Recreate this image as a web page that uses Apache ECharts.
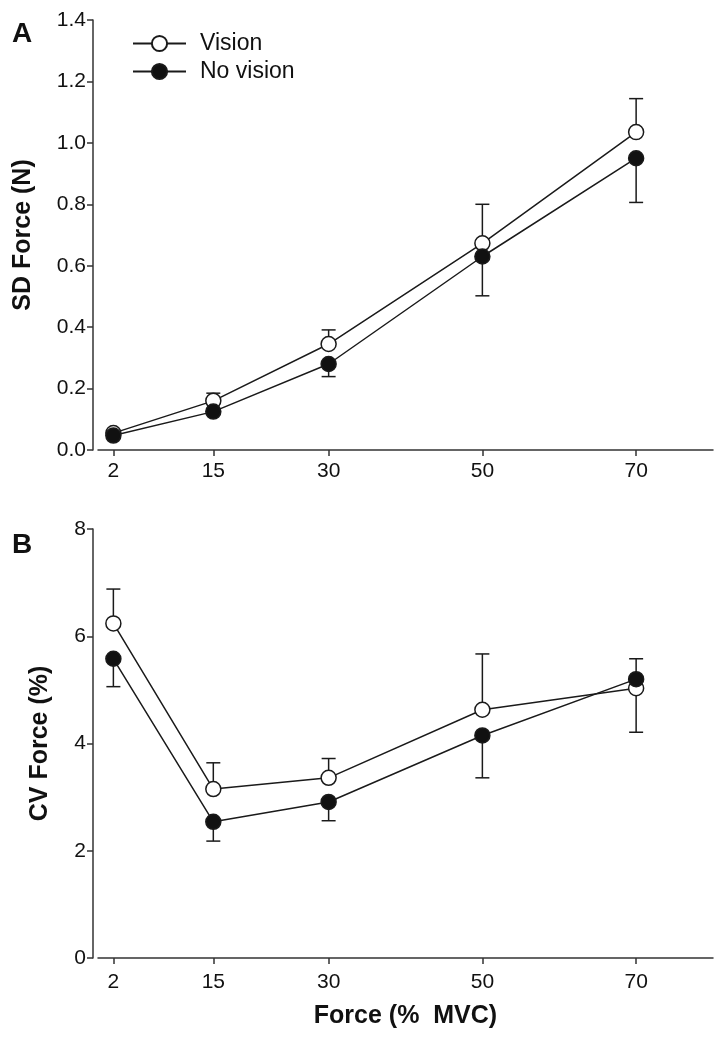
<!DOCTYPE html>
<html>
<head>
<meta charset="utf-8">
<script src="https://cdn.jsdelivr.net/npm/echarts@6/dist/echarts.min.js"></script>
<style>
html,body{margin:0;padding:0;background:#fff;}
#c{width:727px;height:1043px;}
</style>
</head>
<body>
<div id="c"></div>
<script>
// ---- data ----
const forces = [2, 15, 30, 50, 70];
const xTicks = [2, 15, 30, 50, 70];

// Panel A: SD Force (N)
const sdVision = [0.055, 0.16, 0.345, 0.673, 1.035];
const sdNoVision = [0.047, 0.125, 0.28, 0.63, 0.95];
const sdVisionErrEnd = [null, 0.185, 0.391, 0.80, 1.144];
const sdNoVisionErrEnd = [null, null, 0.239, 0.502, 0.806];

// Panel B: CV Force (%)
const cvVision = [6.24, 3.15, 3.36, 4.63, 5.03];
const cvNoVision = [5.58, 2.54, 2.91, 4.15, 5.20];
const cvVisionErrEnd = [6.88, 3.64, 3.72, 5.67, 4.21];
const cvNoVisionErrEnd = [5.06, 2.18, 2.56, 3.36, 5.58];

const sdTicks = [0, 0.2, 0.4, 0.6, 0.8, 1.0, 1.2, 1.4];
const cvTicks = [0, 2, 4, 6, 8];

// ---- build ----
const FONT = 'Liberation Sans, Arial, Helvetica, sans-serif';
const INK = '#1a1a1a';
const AX = '#333';

function pairs(xs, ys) { return xs.map((x, i) => [x, ys[i]]); }
function errData(xs, means, ends) {
  const out = [];
  xs.forEach((x, i) => { if (ends[i] != null) out.push([x, means[i], ends[i]]); });
  return out;
}
function errRender(params, api) {
  const x = api.value(0), m = api.value(1), e = api.value(2);
  const p0 = api.coord([x, m]);
  const p1 = api.coord([x, e]);
  const hw = 7;
  const st = { stroke: INK, lineWidth: 1.5 };
  return {
    type: 'group',
    children: [
      { type: 'line', shape: { x1: p0[0], y1: p0[1], x2: p1[0], y2: p1[1] }, style: st },
      { type: 'line', shape: { x1: p1[0] - hw, y1: p1[1], x2: p1[0] + hw, y2: p1[1] }, style: st }
    ]
  };
}

const grids = [
  { left: 98, right: 14, top: 20, height: 430 },
  { left: 98, right: 14, top: 529, height: 429 }
];

function xAx(idx, labelMargin, withName) {
  const a = {
    type: 'value', gridIndex: idx, min: 0, max: 80, position: 'bottom',
    axisLine: { show: true, lineStyle: { color: AX, width: 1.5 } },
    axisTick: { show: true, length: 6, lineStyle: { color: AX, width: 1.5 }, customValues: xTicks },
    axisLabel: { show: true, fontFamily: FONT, fontSize: 21, color: '#111', margin: labelMargin, customValues: xTicks },
    splitLine: { show: false }
  };
  if (withName) {
    a.name = 'Force (%  MVC)';
    a.nameLocation = 'middle';
    a.nameGap = 46;
    a.nameTextStyle = { fontFamily: FONT, fontSize: 25, fontWeight: 'bold', color: '#111' };
  }
  return a;
}
function yAx(idx, max, interval, name, nameGap, decimals) {
  return {
    type: 'value', gridIndex: idx, min: 0, max: max, interval: interval,
    position: 'left', offset: 5,
    name: name, nameLocation: 'middle', nameGap: nameGap,
    nameTextStyle: { fontFamily: FONT, fontSize: 25, fontWeight: 'bold', color: '#111' },
    axisLine: { show: true, onZero: false, lineStyle: { color: AX, width: 1.5 } },
    axisTick: { show: true, length: 6, lineStyle: { color: AX, width: 1.5 } },
    axisLabel: { fontFamily: FONT, fontSize: 21, color: '#111', margin: 7,
      formatter: v => v.toFixed(decimals) },
    splitLine: { show: false }
  };
}

function lineSeries(name, idx, data, filled) {
  return {
    type: 'line', name: name, xAxisIndex: idx, yAxisIndex: idx, data: data,
    symbol: 'circle', symbolSize: 15, z: filled ? 4 : 3,
    lineStyle: { color: INK, width: 1.5 },
    itemStyle: { color: filled ? '#111' : '#fff', borderColor: INK, borderWidth: 1.5, opacity: 1 },
    emphasis: { disabled: true },
    animation: false
  };
}
function errSeries(idx, data) {
  return {
    type: 'custom', xAxisIndex: idx, yAxisIndex: idx, data: data, z: 1,
    renderItem: errRender, silent: true, animation: false
  };
}

const option = {
  backgroundColor: '#fff',
  animation: false,
  grid: grids,
  xAxis: [xAx(0, 11, false), xAx(1, 14, true)],
  yAxis: [
    yAx(0, 1.4, 0.2, 'SD Force (N)', 57, 1),
    yAx(1, 8, 2, 'CV Force (%)', 40, 0)
  ],
  legend: {
    orient: 'vertical', left: 127, top: 27, itemWidth: 53, itemHeight: 19, itemGap: 5,
    data: ['Vision', 'No vision'],
    textStyle: { fontFamily: FONT, fontSize: 23, color: '#111', padding: [0, 0, 0, 9] },
    selectedMode: false
  },
  graphic: [
    { type: 'text', left: 12, top: 20, style: { text: 'A', font: 'bold 28px ' + FONT, fill: '#111' } },
    { type: 'text', left: 12, top: 531, style: { text: 'B', font: 'bold 28px ' + FONT, fill: '#111' } }
  ],
  series: [
    errSeries(0, errData(forces, sdVision, sdVisionErrEnd)),
    errSeries(0, errData(forces, sdNoVision, sdNoVisionErrEnd)),
    lineSeries('Vision', 0, pairs(forces, sdVision), false),
    lineSeries('No vision', 0, pairs(forces, sdNoVision), true),
    errSeries(1, errData(forces, cvVision, cvVisionErrEnd)),
    errSeries(1, errData(forces, cvNoVision, cvNoVisionErrEnd)),
    lineSeries('Vision', 1, pairs(forces, cvVision), false),
    lineSeries('No vision', 1, pairs(forces, cvNoVision), true)
  ]
};

const chart = echarts.init(document.getElementById('c'), null, { renderer: 'canvas' });
chart.setOption(option);
</script>
</body>
</html>
